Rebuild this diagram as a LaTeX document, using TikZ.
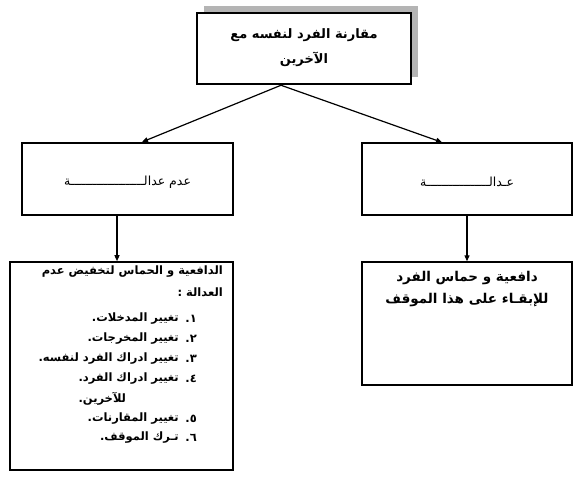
\documentclass[tikz,border=0pt]{standalone}
\usepackage{fontspec}
\usepackage{xcolor}
\usetikzlibrary{positioning,calc,arrows.meta}
\newfontfamily\arabicfont[Script=Arabic]{DejaVu Sans}
\TeXXeTstate=1
\definecolor{shade}{HTML}{B4B4B4}
\tikzset{
  box/.style={draw, rectangle, line width=#1, inner sep=0pt},
  box/.default=1.8pt,
  lbl/.style={font=\arabicfont\fontsize{12.5}{20}\selectfont, inner sep=0pt},
  blbl/.style={font=\arabicfont\bfseries\fontsize{11.5}{20}\selectfont, inner sep=0pt},
  tlbl/.style={font=\arabicfont\bfseries\fontsize{13}{25}\selectfont, inner sep=0pt},
  link/.style={line width=1.2pt, -{Triangle[length=6pt,width=5pt]}},
}
\begin{document}
\begin{tikzpicture}[x=1pt,y=-1pt]
\useasboundingbox (0,0) rectangle (580,477);

% ---- top box with its shadow ----
\node[fill=shade, minimum width=214pt, minimum height=71pt, inner sep=0pt] (shadow) at (311,41) {};
\node[box=2.5pt, fill=white, minimum width=214pt, minimum height=71pt] (cmp) at (304,48.5) {};
\node[tlbl, align=center] (cmptxt) at ([yshift=1pt]cmp)
  {\beginR مقارنة الفرد لنفسه مع\endR\\ \beginR الآخرين\endR};

% ---- second row ----
\node[box=2pt, minimum width=211pt, minimum height=72pt] (unfair) at (127.5,179) {};
\node[lbl] (unfairtxt) at ([yshift=-3pt]unfair) {\beginR عدم عدالــــــــــــــــــــة\endR};
\node[box=1.4pt, minimum width=210pt, minimum height=72pt] (fair) at (467,179) {};
\node[lbl] (fairtxt) at ([yshift=-3pt]fair) {\beginR عـدالـــــــــــــــــة\endR};

% ---- third row ----
\node[box=1.6pt, minimum width=223pt, minimum height=208pt] (reduce) at (121.5,366) {};
\node[box=1.4pt, minimum width=210pt, minimum height=123pt] (keep) at (467,323.5) {};
\node[tlbl, align=center, font=\arabicfont\bfseries\fontsize{13.5}{22}\selectfont,
      below=10pt of keep.north] (keeptxt)
  {\beginR دافعية و حماس الفرد\endR\\ \beginR للإبقـاء على هذا الموقف\endR};

% lines of the left list
\node[blbl, anchor=east] (r1) at (223,272) {\beginR الدافعية و الحماس لتخفيض عدم\endR};
\node[blbl, anchor=east] (r2) at (223,292) {\beginR العدالة :\endR};
\node[blbl, anchor=east] (n1) at (197,319) {\beginR ١.\endR};
\node[blbl, anchor=east] (i1) at (179,319) {\beginR تغيير المدخلات.\endR};
\node[blbl, anchor=east] (n2) at (197,339) {\beginR ٢.\endR};
\node[blbl, anchor=east] (i2) at (179,339) {\beginR تغيير المخرجات.\endR};
\node[blbl, anchor=east] (n3) at (197,359) {\beginR ٣.\endR};
\node[blbl, anchor=east] (i3) at (179,359) {\beginR تغيير ادراك الفرد لنفسه.\endR};
\node[blbl, anchor=east] (n4) at (197,379) {\beginR ٤.\endR};
\node[blbl, anchor=east] (i4) at (179,379) {\beginR تغيير ادراك الفرد.\endR};
\node[blbl, anchor=west] (i4b) at (i4.west |- 0,399) {\beginR للآخرين.\endR};
\node[blbl, anchor=east] (n5) at (197,419) {\beginR ٥.\endR};
\node[blbl, anchor=east] (i5) at (179,419) {\beginR تغيير المقارنات.\endR};
\node[blbl, anchor=east] (n6) at (197,438) {\beginR ٦.\endR};
\node[blbl, anchor=east] (i6) at (179,438) {\beginR تـرك الموقف.\endR};

% ---- connectors ----
\coordinate (apex) at ([xshift=-23pt]cmp.south);
\draw[link] (apex) -- ([xshift=14.5pt]unfair.north);
\draw[link] (apex) -- ([xshift=-25pt]fair.north);
\draw[link] ([xshift=-10.5pt]unfair.south) -- ([xshift=-4.5pt]reduce.north);
\draw[link] (fair.south) -- (keep.north);

\end{tikzpicture}
\end{document}
